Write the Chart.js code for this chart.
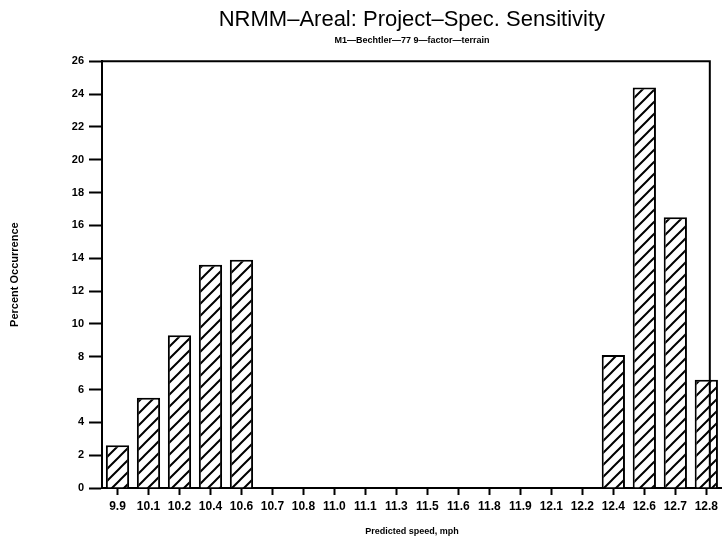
<!DOCTYPE html>
<html>
<head>
<meta charset="utf-8">
<script src="https://cdn.jsdelivr.net/npm/chart.js@4.4.0/dist/chart.umd.min.js"></script>
<style>
    html, body { margin: 0; padding: 0; background: #fff; }
    #wrap { width: 722px; height: 548px; }
</style>
</head>
<body>
<div id="wrap"><canvas id="myChart"></canvas></div>
<script>
// predicted speed bins (mph) and percent occurrence per bin
const speed_labels = ['9.9', '10.1', '10.2', '10.4', '10.6', '10.7', '10.8', '11.0', '11.1', '11.3',
    '11.5', '11.6', '11.8', '11.9', '12.1', '12.2', '12.4', '12.6', '12.7', '12.8'];
const percent_values = [2.6, 5.5, 9.3, 13.6, 13.9, null, null, null, null, null,
    null, null, null, null, null, null, 8.1, 24.4, 16.5, 6.6];
const y_max = 26;
const y_step = 2;

const chart_title = 'NRMM\u2013Areal: Project\u2013Spec. Sensitivity';
const chart_subtitle = 'M1\u2014Bechtler\u201477 9\u2014factor\u2014terrain';

// diagonal "/" hatching for the bars
function makeHatch() {
    const c = document.createElement('canvas');
    c.width = 12;
    c.height = 12;
    const g = c.getContext('2d');
    g.fillStyle = '#fff';
    g.fillRect(0, 0, 12, 12);
    g.strokeStyle = '#000';
    g.lineWidth = 2;
    g.beginPath();
    g.moveTo(-3, 15); g.lineTo(15, -3);
    g.moveTo(-3, 3); g.lineTo(3, -3);
    g.moveTo(9, 15); g.lineTo(15, 9);
    g.stroke();
    return g.createPattern(c, 'repeat');
}

// top and right edge of the plot box
const frameBox = {
    id: 'frameBox',
    afterDraw(chart) {
        const { ctx, chartArea } = chart;
        const right = chartArea.right - 12;
        ctx.save();
        ctx.strokeStyle = '#000';
        ctx.lineWidth = 2;
        ctx.beginPath();
        ctx.moveTo(chartArea.left, chartArea.top);
        ctx.lineTo(right, chartArea.top);
        ctx.lineTo(right, chartArea.bottom);
        ctx.stroke();
        ctx.restore();
    }
};

const tickFont = { family: 'Liberation Sans', size: 12, weight: 'bold' };
const smallFont = { family: 'Liberation Sans', size: 9, weight: 'bold' };

const data = {
    labels: speed_labels,
    datasets: [
        {
            label: 'Percent Occurrence',
            data: percent_values,
            backgroundColor: makeHatch(),
            borderColor: '#000',
            borderWidth: 2,
            borderSkipped: 'bottom',
            categoryPercentage: 1.0,
            barPercentage: 0.75
        }
    ]
};

const config = {
    type: 'bar',
    data: data,
    options: {
        responsive: true,
        maintainAspectRatio: false,
        animation: false,
        layout: { padding: { left: 0, right: 0, top: 0, bottom: 0 } },
        plugins: {
            legend: { display: false },
            tooltip: { enabled: false },
            title: {
                display: true,
                text: chart_title,
                fullSize: false,
                color: '#000',
                font: { family: 'Liberation Sans', size: 22, weight: 'normal' },
                padding: { top: 7, bottom: 0 }
            },
            subtitle: {
                display: true,
                text: chart_subtitle,
                fullSize: false,
                color: '#000',
                font: smallFont,
                padding: { top: 2, bottom: 15 }
            }
        },
        scales: {
            x: {
                afterFit: (scale) => { scale.height = 60; },
                grid: {
                    display: true,
                    offset: false,
                    drawOnChartArea: false,
                    drawTicks: true,
                    tickLength: 7,
                    tickWidth: 2,
                    tickColor: '#000'
                },
                border: { display: true, color: '#000', width: 2 },
                ticks: {
                    autoSkip: false,
                    maxRotation: 0,
                    minRotation: 0,
                    padding: 4,
                    color: '#000',
                    font: tickFont
                },
                title: {
                    display: true,
                    text: 'Predicted speed, mph',
                    color: '#000',
                    font: smallFont,
                    padding: { top: 0, bottom: 11 }
                }
            },
            y: {
                min: 0,
                max: y_max,
                afterFit: (scale) => { scale.width = 102; },
                grid: {
                    display: true,
                    drawOnChartArea: false,
                    drawTicks: true,
                    tickLength: 13,
                    tickWidth: 2,
                    tickColor: '#000'
                },
                border: { display: true, color: '#000', width: 2 },
                ticks: {
                    stepSize: y_step,
                    padding: 5,
                    color: '#000',
                    font: { family: 'Liberation Sans', size: 11, weight: 'bold' }
                },
                title: {
                    display: true,
                    text: 'Percent Occurrence',
                    color: '#000',
                    font: { family: 'Liberation Sans', size: 11, weight: 'bold' },
                    padding: { top: 8, bottom: 0 }
                }
            }
        }
    },
    plugins: [frameBox]
};

const ctx = document.getElementById('myChart').getContext('2d');
const myChart = new Chart(ctx, config);
</script>
</body>
</html>
